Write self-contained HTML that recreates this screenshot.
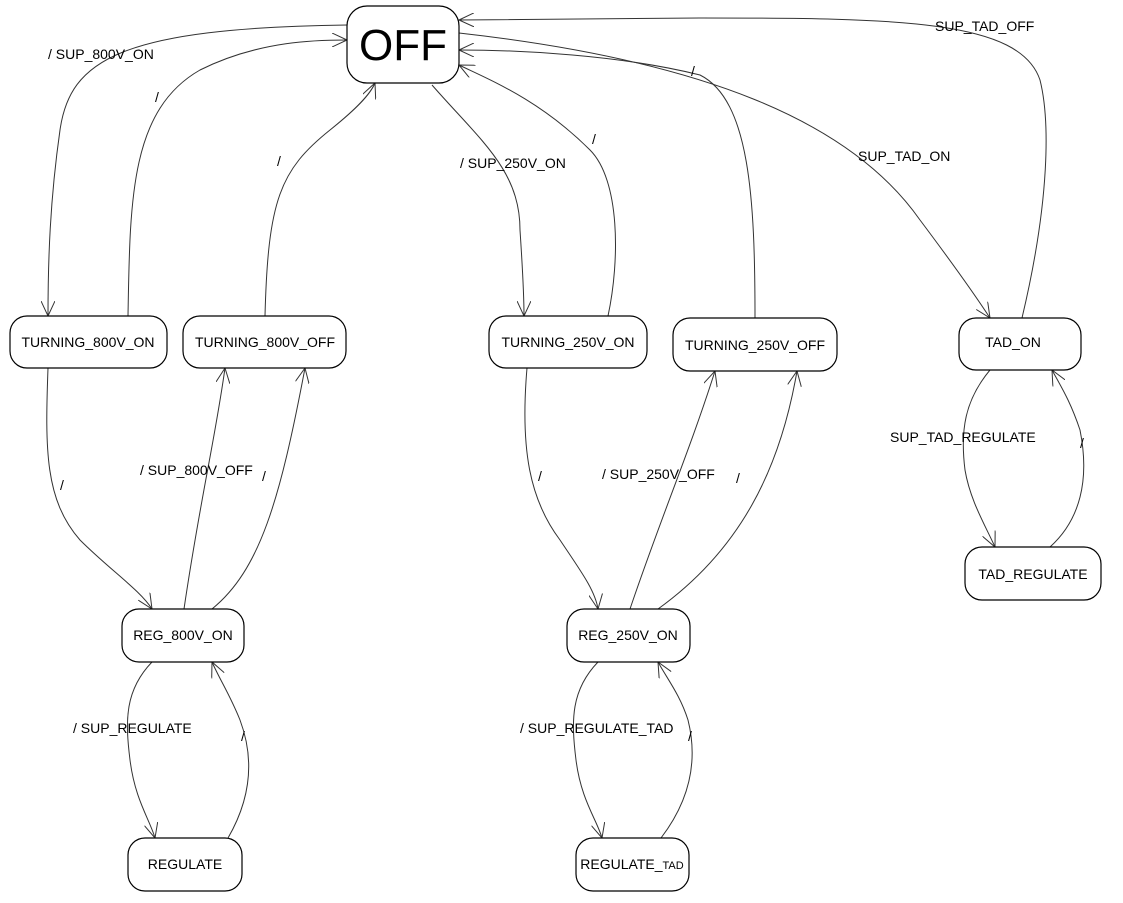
<!DOCTYPE html>
<html><head><meta charset="utf-8"><style>
html,body{margin:0;padding:0;background:#fff;}
svg{display:block;}
text{font-family:"Liberation Sans",sans-serif;font-size:14px;fill:#000;}
</style></head><body>
<svg width="1123" height="903" viewBox="0 0 1123 903" xmlns="http://www.w3.org/2000/svg">
<defs>
<marker id="a" markerWidth="16" markerHeight="14" refX="15" refY="7" orient="auto" markerUnits="userSpaceOnUse">
<path d="M0,0 L15,7 L0,14" fill="none" stroke="#333" stroke-width="1"/>
</marker>
</defs>
<g fill="none" stroke="#333" stroke-width="1" marker-end="url(#a)">
<path d="M347,25 C120,28 70,60 60,130 C50,200 48,260 48,316"/>
<path d="M128,316 C130,200 130,110 200,70 C260,40 320,40 347,40"/>
<path d="M265,316 C268,200 280,170 330,130 C355,110 370,95 375,83"/>
<path d="M432,85 C480,140 520,170 520,230 C522,260 524,290 524,316"/>
<path d="M608,316 C620,260 620,180 590,150 C540,100 490,80 459,65"/>
<path d="M755,318 C755,200 750,100 700,75 C620,55 520,50 459,50"/>
<path d="M459,33 C700,60 850,120 920,220 C950,260 975,295 990,318"/>
<path d="M1022,318 C1050,200 1050,120 1040,80 C1020,20 900,18 700,18 L459,20"/>
<path d="M48,368 C45,450 45,500 80,540 C110,570 140,590 152,609"/>
<path d="M184,609 C200,500 215,440 225,368"/>
<path d="M212,609 C260,570 280,500 305,368"/>
<path d="M527,368 C520,450 530,500 560,540 C580,570 595,590 598,609"/>
<path d="M630,609 C660,520 690,450 715,371"/>
<path d="M658,609 C740,550 780,470 797,371"/>
<path d="M990,370 C965,400 960,430 965,470 C970,500 985,525 995,547"/>
<path d="M1050,547 C1080,520 1090,480 1080,430 C1070,400 1060,385 1052,370"/>
<path d="M152,662 C125,690 125,720 130,760 C135,800 150,820 155,838"/>
<path d="M228,838 C250,800 255,760 240,720 C230,695 220,680 212,662"/>
<path d="M598,662 C571,690 571,720 576,760 C581,800 597,820 602,838"/>
<path d="M661,838 C690,800 698,760 688,720 C680,695 668,680 658,662"/>
</g>
<g fill="#fff" stroke="#000" stroke-width="1.2">
<rect x="347" y="6" width="112" height="77" rx="20"/>
<rect x="10" y="316" width="157" height="52" rx="17"/>
<rect x="183" y="316" width="163" height="52" rx="17"/>
<rect x="489" y="316" width="158" height="52" rx="17"/>
<rect x="673" y="318" width="164" height="53" rx="17"/>
<rect x="959" y="318" width="122" height="52" rx="17"/>
<rect x="965" y="547" width="136" height="53" rx="17"/>
<rect x="122" y="609" width="122" height="53" rx="17"/>
<rect x="567" y="609" width="123" height="53" rx="17"/>
<rect x="128" y="838" width="114" height="53" rx="17"/>
<rect x="576" y="838" width="113" height="53" rx="17"/>
</g>
<g text-anchor="middle">
<text x="403" y="60" style="font-size:44px">OFF</text>
<text x="88" y="347">TURNING_800V_ON</text>
<text x="265" y="347">TURNING_800V_OFF</text>
<text x="568" y="347">TURNING_250V_ON</text>
<text x="755" y="350">TURNING_250V_OFF</text>
<text x="1013" y="347">TAD_ON</text>
<text x="1033" y="579">TAD_REGULATE</text>
<text x="183" y="640">REG_800V_ON</text>
<text x="628" y="640">REG_250V_ON</text>
<text x="185" y="869">REGULATE</text>
<text x="632" y="869">REGULATE_<tspan style="font-size:11px">TAD</tspan></text>
</g>
<g>
<text x="48" y="59">/ SUP_800V_ON</text>
<text x="155" y="102">/</text>
<text x="277" y="166">/</text>
<text x="460" y="168">/ SUP_250V_ON</text>
<text x="592" y="144">/</text>
<text x="691" y="76">/</text>
<text x="858" y="161">SUP_TAD_ON</text>
<text x="935" y="31">SUP_TAD_OFF</text>
<text x="60" y="490">/</text>
<text x="140" y="475">/ SUP_800V_OFF</text>
<text x="262" y="481">/</text>
<text x="538" y="481">/</text>
<text x="602" y="479">/ SUP_250V_OFF</text>
<text x="736" y="483">/</text>
<text x="890" y="442">SUP_TAD_REGULATE</text>
<text x="1080" y="448">/</text>
<text x="73" y="733">/ SUP_REGULATE</text>
<text x="241" y="741">/</text>
<text x="520" y="733">/ SUP_REGULATE_TAD</text>
<text x="688" y="741">/</text>
</g>
</svg>
</body></html>
